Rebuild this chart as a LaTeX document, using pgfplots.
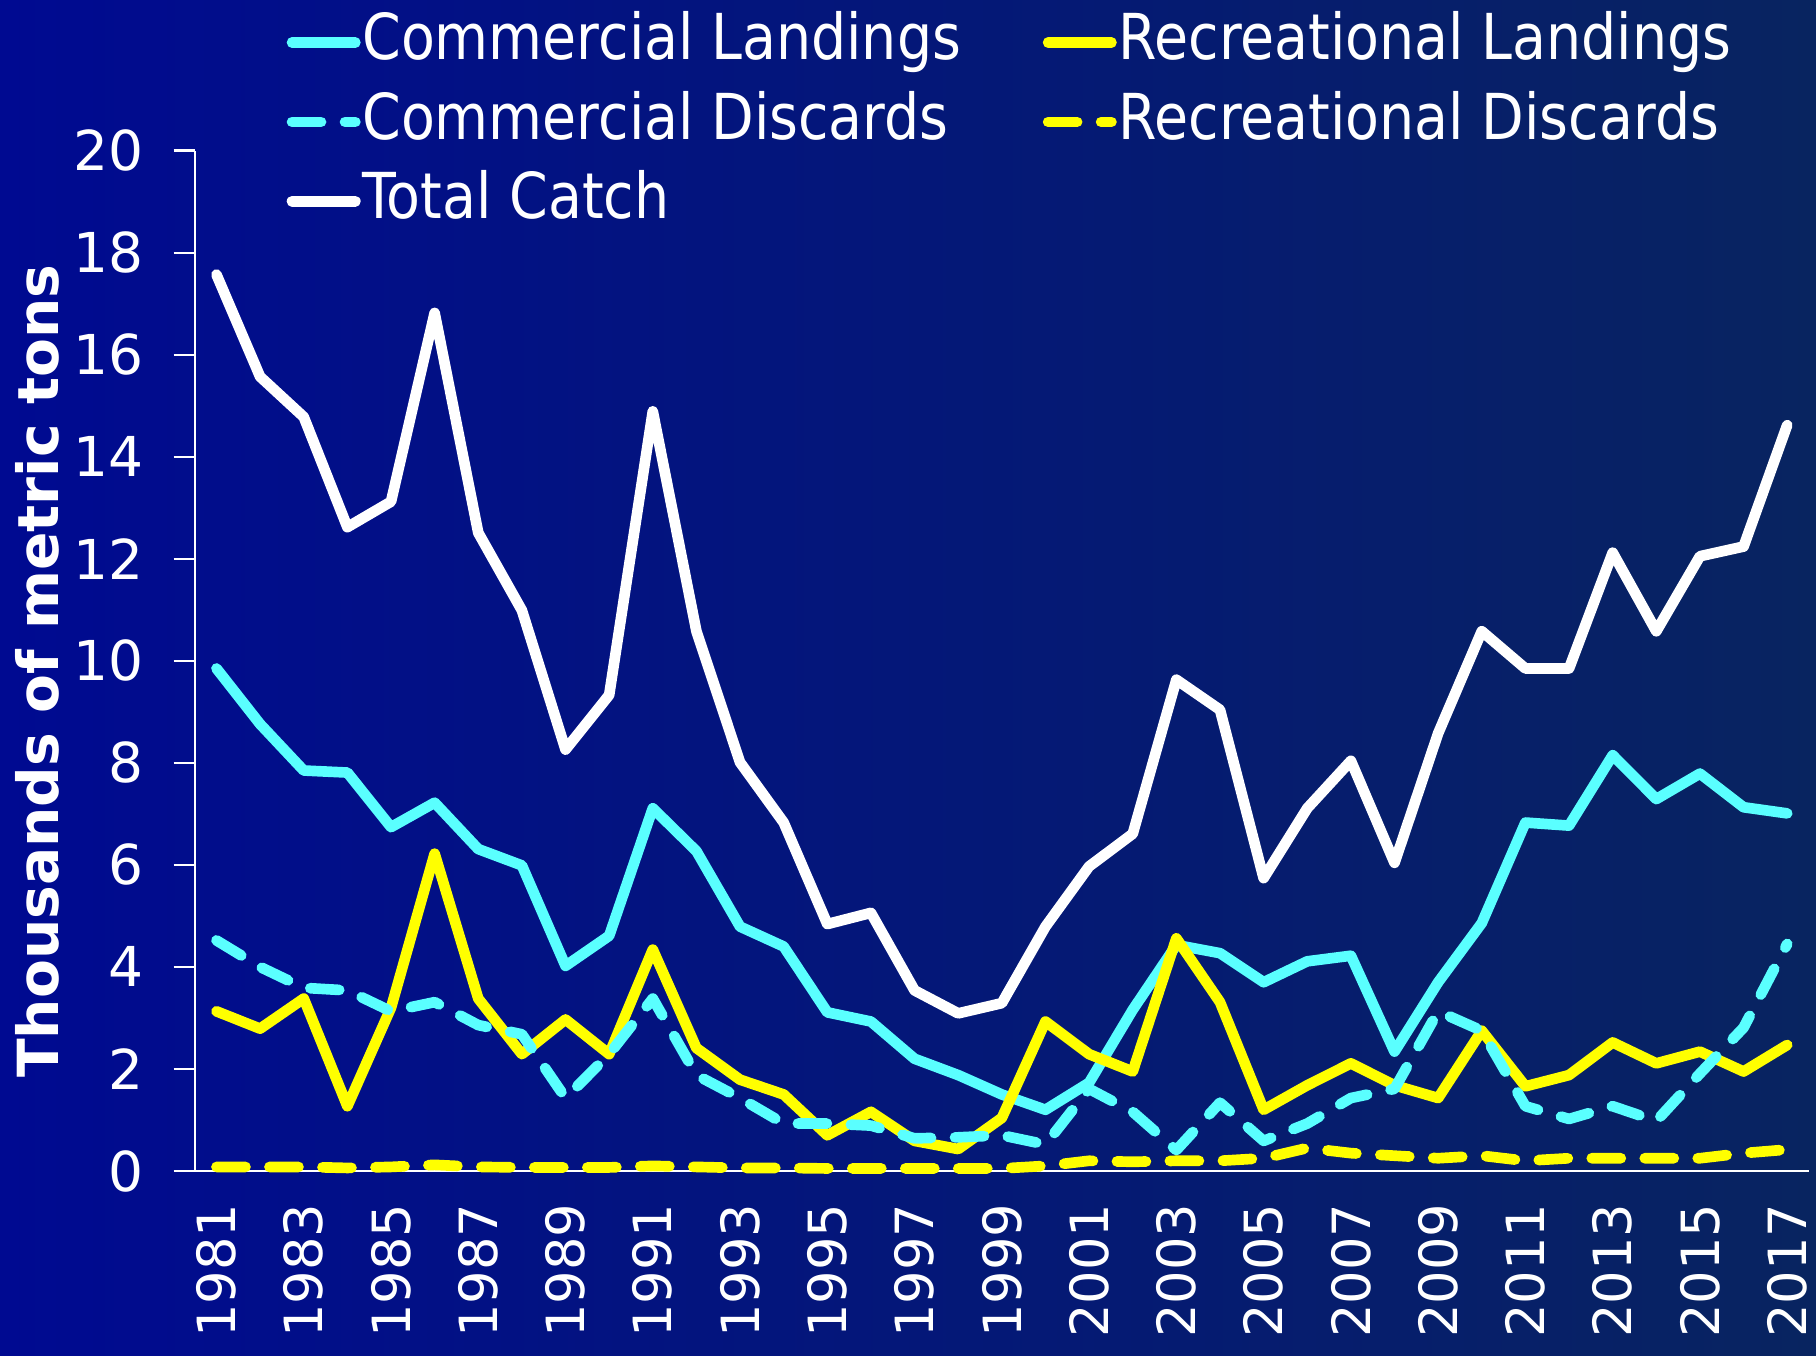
\documentclass[border=0pt]{standalone}
\usepackage{pgfplots}
\pgfplotsset{compat=1.18}
\usepackage{pgfplotstable}
\usepackage{fontspec}
\setmainfont{DejaVu Sans}
\newfontfamily\legfont{DejaVu Sans}[FakeStretch=0.875]
\definecolor{bgL}{RGB}{0,10,145}
\definecolor{bgR}{RGB}{8,36,96}
\definecolor{cyanL}{RGB}{90,255,255}
\definecolor{yelL}{RGB}{255,255,0}

\pgfplotstableread{
year CL RL CD RD TC
1981 9.85 3.13 4.52 0.08 17.57
1982 8.76 2.79 4.00 0.08 15.57
1983 7.85 3.38 3.59 0.08 14.78
1984 7.81 1.27 3.54 0.06 12.62
1985 6.74 3.20 3.13 0.08 13.12
1986 7.22 6.22 3.31 0.12 16.82
1987 6.31 3.38 2.86 0.08 12.51
1988 5.99 2.29 2.68 0.07 10.99
1989 4.02 2.97 1.43 0.07 8.26
1990 4.61 2.29 2.29 0.07 9.33
1991 7.11 4.34 3.38 0.10 14.89
1992 6.27 2.41 1.88 0.08 10.58
1993 4.79 1.79 1.43 0.06 8.01
1994 4.40 1.50 0.93 0.06 6.83
1995 3.11 0.70 0.93 0.05 4.84
1996 2.93 1.16 0.89 0.05 5.06
1997 2.20 0.59 0.64 0.05 3.54
1998 1.88 0.43 0.66 0.05 3.09
1999 1.50 1.04 0.70 0.05 3.29
2000 1.20 2.93 0.52 0.10 4.79
2001 1.73 2.29 1.61 0.20 5.97
2002 3.16 1.95 1.16 0.18 6.61
2003 4.43 4.56 0.41 0.20 9.63
2004 4.27 3.31 1.34 0.20 9.04
2005 3.70 1.20 0.59 0.25 5.74
2006 4.11 1.68 0.93 0.45 7.11
2007 4.22 2.11 1.43 0.35 8.04
2008 2.34 1.68 1.61 0.30 6.04
2009 3.70 1.43 3.13 0.25 8.58
2010 4.86 2.75 2.75 0.30 10.58
2011 6.83 1.66 1.27 0.20 9.85
2012 6.77 1.88 1.02 0.25 9.85
2013 8.15 2.52 1.27 0.25 12.12
2014 7.29 2.11 0.98 0.25 10.58
2015 7.79 2.34 1.91 0.25 12.05
2016 7.13 1.95 2.81 0.35 12.24
2017 7.01 2.47 4.45 0.42 14.62
}\datatable

\begin{document}
\begin{tikzpicture}
\shade[left color=bgL, right color=bgR] (0,0) rectangle (544.8pt,406.5pt);
\begin{axis}[
  at={(58.4pt,55.2pt)}, anchor=south west,
  scale only axis, width=484.3pt, height=306.1pt,
  xmin=1980.5, xmax=2017.5, ymin=0, ymax=20,
  axis lines*=left,
  axis line style={white, line width=0.7pt},
  tick style={white, line width=0.7pt},
  tick align=outside,
  major tick length=6.3pt, minor tick length=6.5pt,
  ytick={0,2,...,20},
  xtick={1981,1983,...,2017},
  minor xtick={1980.5,1981.5,...,2017.5},
  xtick style={draw=none},
  minor x tick style={white, line width=0.7pt},
  /pgf/number format/assume math mode=true,
  /pgf/number format/1000 sep={},
  yticklabel style={text=white, font=\fontsize{16.5}{17}\selectfont, xshift=-5.5pt},
  xticklabel style={text=white, font=\fontsize{15.8}{17}\selectfont, rotate=90, anchor=east},
  ylabel={Thousands of metric tons},
  every axis y label/.style={at={(axis description cs:-0.0977,0.49)}, rotate=90, anchor=center,
     text=white, font=\bfseries\fontsize{17}{17}\selectfont},
  legend columns=2,
  legend cell align=left,
  legend style={draw=none, fill=none, at={(0.057,1.136)}, anchor=north west,
    inner sep=0pt, outer sep=0pt,
    font=\legfont\fontsize{19}{19}\selectfont, text=white,
    nodes={inner sep=0.5pt, text height=13.9pt, text depth=3.5pt},
    row sep=5.4pt,
    /tikz/every even column/.append style={column sep=24pt}},
  legend image code/.code={\draw[#1] (1.6pt,0pt) -- (20.6pt,0pt);},
  legend image post style={xshift=-1.75pt},
  every axis plot/.append style={line width=3.2pt, line cap=round, line join=round},
  clip=false,
]
\addplot[cyanL] table[x=year,y=CL] {\datatable};
\addlegendentry{Commercial Landings}
\addplot[yelL] table[x=year,y=RL] {\datatable};
\addlegendentry{Recreational Landings}
\addplot[cyanL, dash pattern=on 8.7pt off 7.2pt] table[x=year,y=CD] {\datatable};
\addlegendentry{Commercial Discards}
\addplot[yelL, dash pattern=on 8.7pt off 7.2pt] table[x=year,y=RD] {\datatable};
\addlegendentry{Recreational Discards}
\addplot[white] table[x=year,y=TC] {\datatable};
\addlegendentry{Total Catch}
\end{axis}
\pgfresetboundingbox
\useasboundingbox (0,0) rectangle (544.8pt,406.5pt);
\end{tikzpicture}
\end{document}
